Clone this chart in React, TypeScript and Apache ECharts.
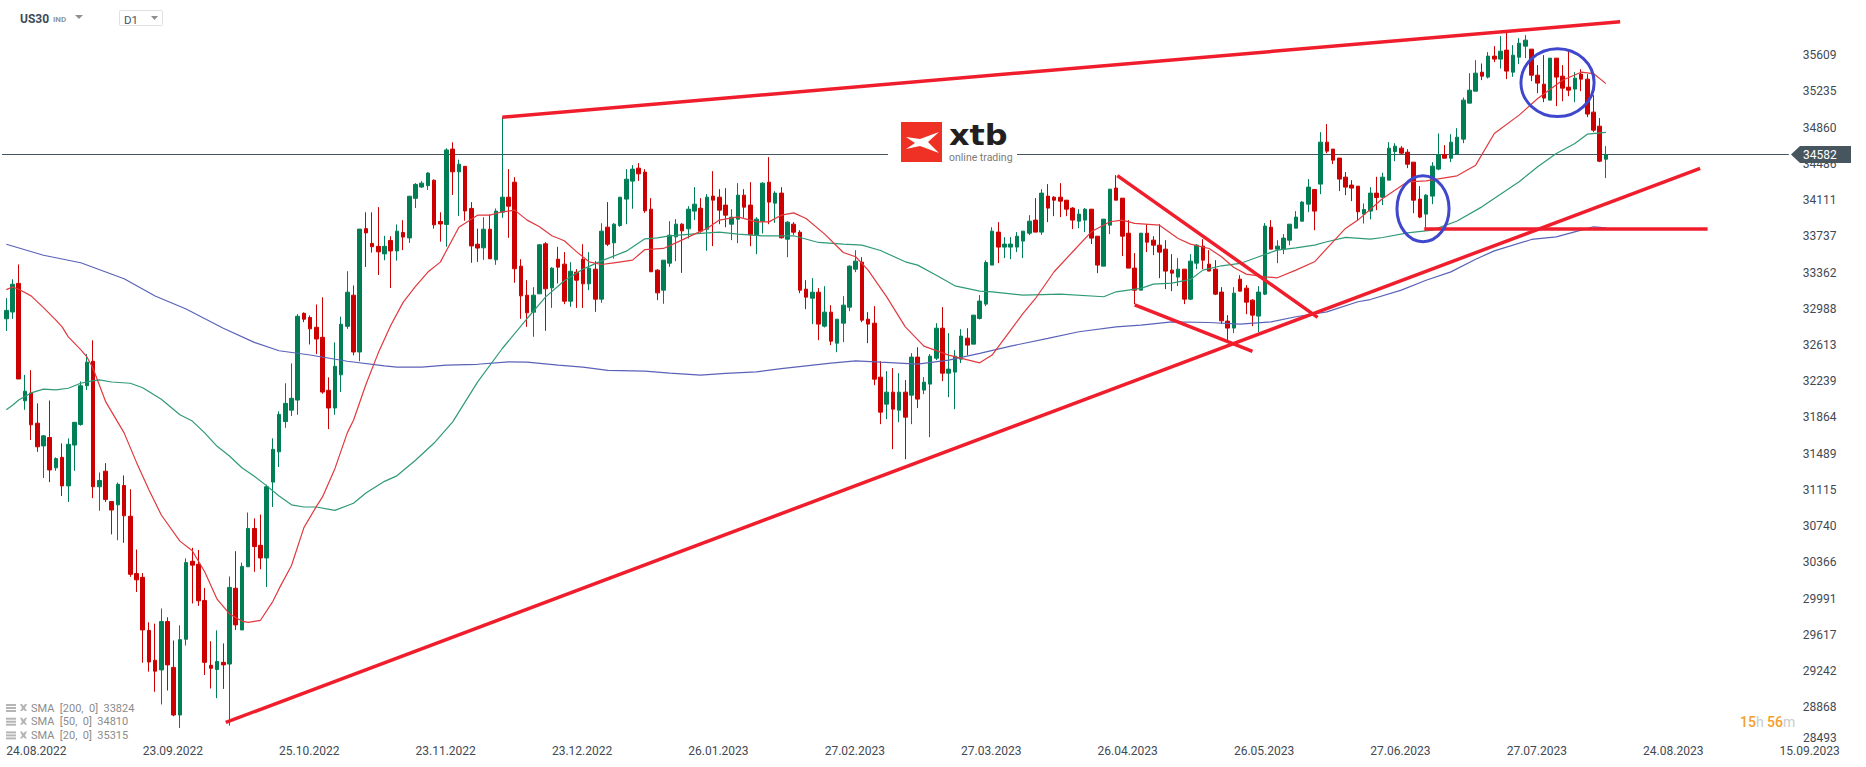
import React, { useEffect, useRef } from "react";
import * as echarts from "echarts";

const tickDates = ["24.08.2022","23.09.2022","25.10.2022","23.11.2022","23.12.2022","26.01.2023","27.02.2023","27.03.2023","26.04.2023","26.05.2023","27.06.2023","27.07.2023","24.08.2023","15.09.2023"];
const priceTicks = [35609,35235,34860,34486,34111,33737,33362,32988,32613,32239,31864,31489,31115,30740,30366,29991,29617,29242,28868];
const lastTickLabel = "28493";
const lastPrice = 34582;
const totalSlots = 288;

// [open, close, low, high]
const ohlc2022a = [
[32884,32971,32758,33098],[32954,33241,32884,33293],[33250,32262,32262,33446],[32036,32136,31944,32305],[32118,31788,31631,32353],[31805,31561,31509,32010],[31570,31674,31239,31683],[31657,31322,31196,32040],[31344,31439,31313,31452],[31452,31157,31052,31596],
[31157,31587,30991,31648],[31579,31814,31313,31814],[31792,32192,31779,32236],[32192,32436,32149,32519],[32445,31148,31030,32662],[31148,31213,30900,31296],[31309,31017,30991,31392],[30995,30908,30656,30995],[30961,31174,30595,31191],[31161,30848,30569,31265],
[30843,30243,30217,31122],[30251,30186,30060,30499],[30212,29668,29329,30256],[29664,29337,29237,29747],[29355,29242,29029,29733],[29255,29755,28898,29890],[29755,29307,29042,29799],[29281,28789,28776,29559],[28789,29568,28654,29716],[29572,30364,29507,30408],
[30378,30338,29942,30517],[30347,29969,29916,30495],[29973,29333,29202,30103],[29303,29272,29063,29551],[29259,29342,28963,29664],[29333,29307,29059,29529],[29316,30108,28680,30221],[30099,29720,29668,30482],[29668,30325,29668,30364],[30321,30717,30321,30882],
[30717,30530,30269,30821],[30543,30412,30295,30861],[30412,31148,30112,31170],[31196,31535,30939,31648],[31509,31896,31352,31927],[31822,32010,31757,32218],[31940,32062,31879,32423],[32044,32910,31892,32932],[32941,32880,32849,32950],[32897,32780,32619,32919],
[32797,32675,32519,33032],[32693,32127,32110,33106],[32145,31962,31744,32279],[31962,32393,31892,32641],[32305,32828,32127,32906],[32806,33159,32780,33376],[33128,32541,32506,33228],[32541,33811,32445,33811],[33816,33772,33420,33985],[33663,33629,33568,33985],
[33633,33576,33337,34038],[33555,33633,33489,33742],[33694,33585,33202,33737],[33585,33790,33485,33859],[33776,33729,33594,33903],[33720,34151,33668,34151],[34129,34273,34029,34286],[34246,34286,34238,34307],[34260,34390,34216,34399],[34316,33855,33816,34325],
[33890,33864,33681,33985],[33859,34629,33629,34647],[34638,34403,34164,34708],[34403,34482,33946,34529],[34460,33998,33898,34460],[34025,33637,33463,34090],[33655,33615,33472,33816],
];
const ohlcMiddle = [
[33618,33810,33494,33934],[33810,33504,33504,33962],[33494,33997,33442,34024],[33986,34141,33928,34968],[34141,34048,33721,34431],[34296,33401,33256,34348],[33428,33121,32884,33500],[33128,32946,32801,33283],[32953,33128,32698,33211],[33142,33649,33142,33655],
[33659,33194,32760,33676],[33204,33407,32997,33418],[33500,33418,33249,33628],[33449,33066,33035,33573],[33066,33376,33008,33469],[33366,33283,32997,33397],[33500,33245,32997,33655],[33245,33407,33180,33573],[33397,33087,32956,33480],[33087,33790,33049,33872],
[33831,33655,33635,34090],[33669,33862,33507,33872],[33848,34141,33835,34141],[34121,34327,33862,34431],[34307,34431,34021,34472],[34441,34382,34310,34493],[34400,34000,33979,34431],[34017,33370,33370,34131],[33387,33152,33077,33397],[33180,33490,33039,33490],
[33459,33748,33421,33893],[33731,33862,33480,33914],[33862,33793,33359,33872],[33814,34017,33714,34048],[33997,34069,33904,34245],[34027,33790,33773,34131],[33810,34141,33587,34172],[34152,34110,33635,34410],[34141,34007,33862,34224],[34059,33955,33831,34234],
[33862,33934,33697,34017],[33914,34162,33666,34286],[34162,34038,33928,34224],[34059,33752,33635,34296],[33755,33914,33552,33934],[33893,34286,33766,34296],[34296,34090,33862,34555],[34079,34183,33876,34203],[34183,33721,33714,34245],[33707,33883,33521,33893],
[33862,33779,33752,33883],[33779,33180,33149,33800],[33190,33108,32984,33283],[33097,33159,32829,33304],[33159,32829,32663,33201],[32808,32953,32794,33221],[32953,32653,32612,33025],[32632,32880,32539,32880],[32839,33025,32643,33118],[33004,33428,32963,33438],
[33397,33480,33366,33593],[33469,32870,32849,33521],[32880,32829,32632,32953],[32839,32260,32198,33015],[32281,31919,31795,32446],[32002,32126,31847,32343],[32126,31950,31537,32374],[31940,32126,31816,32322],[32126,31867,31433,32250],
];
const ohlcSpring = [
[32095,32488,31795,32529],[32488,32054,31961,32591],[32147,32229,32105,32281],[32209,32498,31661,32519],[32477,32787,32457,32839],[32787,32322,32240,33005],[32322,32364,32074,32736],[32333,32498,31950,32560],[32467,32705,32426,32777],[32684,32612,32508,32787],
[32622,32922,32622,32922],[32888,33067,32877,33129],[33036,33466,33015,33487],[33439,33790,33439,33831],[33780,33625,33459,33883],[33625,33656,33511,33728],[33625,33656,33501,33728],[33625,33738,33573,33780],[33687,33790,33511,33790],[33769,33893,33749,33955],
[33904,33780,33780,34131],[33780,34183,33752,34224],[34152,34028,33883,34276],[34141,34110,33945,34152],[34141,34100,33935,34286],[34110,34017,33945,34110],[34028,33904,33811,34038],[33893,33966,33821,34017],[33904,34017,33780,34028],[34017,33718,33656,34017],
[33738,33439,33356,33738],[33428,33914,33428,33914],[33852,34224,33759,34224],[34235,34110,34110,34369],[34131,33738,33532,34131],[33769,33408,33408,33904],[33408,33180,33036,33563],[33180,33769,33180,33769],[33769,33676,33573,33862],[33697,33645,33542,33738],
[33645,33573,33304,33862],[33604,33377,33191,33697],[33387,33356,33170,33552],[33315,33397,33222,33511],[33397,33087,33036,33397],[33087,33480,33077,33552],[33459,33645,33397,33656],[33635,33490,33397,33707],[33449,33377,33377,33594],[33397,33139,33129,33490],
[33160,32863,32829,33211],[32860,32788,32664,32922],[32788,33149,32736,33211],[33294,33170,33170,33335],[33201,33056,32932,33232],[33077,32922,32808,33087],[32912,33160,32746,33222],
];
const ohlcSummer = [
[33139,33842,33129,33873],[33831,33604,33604,33904],[33604,33635,33459,33697],[33604,33718,33552,33759],[33697,33862,33645,33862],[33821,33935,33821,33997],[33893,34090,33893,34100],[34069,34245,33986,34328],[34221,33997,33800,34221],[34276,34710,34172,34813],
[34710,34617,34596,34896],[34638,34524,34483,34638],[34545,34328,34204,34545],[34348,34245,34162,34400],[34266,34235,34100,34317],[34255,33990,33904,34255],[33966,34014,33869,34076],[33997,34183,33911,34245],[34183,34138,34007,34352],[34141,34348,34059,34393],
[34317,34648,34317,34710],[34613,34668,34513,34699],[34648,34596,34586,34668],[34606,34482,34441,34637],[34503,34110,33976,34503],[34121,33935,33924,34255],[33966,34162,33807,34172],[34152,34462,34069,34503],[34431,34582,34420,34799],[34582,34544,34544,34679],
[34544,34710,34503,34792],[34586,34761,34586,34854],[34741,35144,34699,35171],[35113,35247,35113,35423],[35237,35423,35237,35557],[35433,35392,35351,35523],[35382,35599,35368,35640],[35599,35568,35537,35702],[35568,35650,35471,35805],[35661,35444,35361,35847],
[35433,35609,35385,35712],[35588,35733,35516,35785],[35702,35764,35578,35816],[35671,35402,35340,35671],[35402,35320,35216,35506],[35309,35165,35123,35609],[35144,35578,35144,35578],[35578,35382,35082,35578],[35392,35268,35133,35506],[35278,35247,35185,35661],
[35258,35371,35123,35433],[35413,35361,35237,35464],[35361,35000,34968,35413],[35020,34834,34813,35195],[34875,34513,34503,34958],[34534,34582,34338,34668],
];

// [candle index, value]
const sma200 = [[0,33655],[6,33541],[12,33463],[19,33298],[24,33120],[29,32985],[35,32786],[40,32640],[44,32554],[49,32510],[55,32445],[61,32397],[63,32384],[67,32384],[71,32406],[76,32414],[81,32439],[84,32436],[89,32405],[93,32384],[97,32350],[103,32343],[107,32322],[112,32302],[116,32319],[121,32336],[125,32370],[129,32398],[133,32426],[137,32450],[141,32436],[147,32416],[152,32457],[157,32526],[162,32602],[168,32681],[173,32750],[179,32801],[183,32819],[188,32853],[194,32846],[199,32829],[204,32853],[208,32905],[213,32956],[218,33060],[220,33083],[225,33180],[229,33283],[233,33369],[237,33500],[240,33586],[246,33704],[250,33731],[254,33800],[256,33835],[258,33824]];
const sma50 = [[0,31944],[1,31990],[2,32044],[4,32118],[6,32157],[8,32149],[10,32166],[12,32218],[14,32245],[15,32253],[17,32231],[20,32218],[22,32171],[25,32053],[28,31892],[30,31827],[32,31705],[34,31566],[36,31466],[38,31344],[40,31257],[42,31157],[44,31052],[46,30961],[48,30939],[50,30939],[53,30904],[56,30978],[58,31083],[61,31204],[63,31261],[66,31422],[69,31600],[72,31819],[76,32230],[80,32577],[84,32887],[87,33111],[90,33277],[93,33397],[96,33483],[100,33583],[103,33711],[105,33721],[107,33742],[112,33766],[115,33780],[118,33759],[122,33742],[127,33742],[131,33673],[135,33655],[138,33645],[141,33590],[145,33473],[147,33439],[150,33335],[153,33225],[157,33170],[159,33163],[164,33129],[170,33139],[177,33112],[179,33163],[183,33198],[185,33242],[188,33253],[191,33291],[193,33387],[196,33432],[199,33456],[202,33525],[205,33594],[208,33618],[211,33645],[213,33680],[216,33725],[220,33707],[222,33724],[226,33772],[230,33800],[234,33895],[238,34041],[244,34300],[247,34455],[250,34593],[253,34696],[255,34792],[258,34810]];
const sma20 = [[0,33186],[1,33211],[2,33190],[4,33121],[6,33000],[8,32870],[9,32800],[10,32697],[12,32566],[13,32490],[14,32370],[16,32031],[19,31705],[21,31400],[23,31117],[25,30856],[28,30586],[30,30486],[32,30269],[34,29986],[36,29834],[38,29760],[39,29747],[41,29768],[43,29964],[44,30095],[46,30334],[48,30726],[50,30943],[51,31043],[53,31335],[55,31705],[56,31835],[58,32205],[60,32532],[62,32815],[64,33054],[66,33219],[68,33367],[70,33470],[73,33830],[76,33955],[78,33955],[80,33990],[82,34007],[84,33904],[86,33835],[88,33742],[90,33690],[92,33576],[94,33473],[96,33445],[98,33463],[101,33490],[103,33600],[106,33611],[108,33669],[111,33759],[113,33817],[115,33904],[118,33938],[121,33886],[123,33886],[125,33955],[127,33979],[129,33921],[132,33759],[135,33569],[137,33525],[139,33387],[142,33111],[145,32800],[148,32602],[152,32509],[157,32429],[159,32509],[162,32767],[164,32939],[166,33094],[169,33370],[172,33577],[175,33783],[178,33887],[180,33904],[182,33870],[186,33852],[189,33714],[191,33656],[194,33611],[196,33525],[198,33415],[200,33346],[203,33318],[205,33308],[208,33387],[211,33473],[213,33611],[216,33818],[218,33904],[222,34128],[226,34300],[229,34310],[234,34362],[237,34472],[240,34799],[244,34989],[247,35161],[251,35350],[254,35433],[256,35419],[258,35315]];

// trend lines as [candle index, price] pairs
const resistanceLine = [[80,34968],[260.3,35955]];
const supportLine = [[35.4,28713],[273.2,34439]];
const neckLine = [[228.7,33813],[274.4,33813]];
const wedgeUpper = [[179.2,34364],[211.5,32899]];
const wedgeLower = [[182,33027],[201,32547]];
const lastPriceLine = [[-0.7,lastPrice],[287.5,lastPrice]];
// [centre index, centre price, radius in candles, radius in price]
const circles = [[228.5,34022,4.2,341],[250.2,35325,5.9,351]];

const legendRows = ["SMA  [200,  0]  33824","SMA  [50,  0]  34810","SMA  [20,  0]  35315"];

const candles = [...ohlc2022a, ...ohlcMiddle, ...ohlcSpring, ...ohlcSummer];
const categories = Array.from({ length: totalSlots }, (_, i) => (i % 22 === 0 ? tickDates[i / 22] : ""));

const RED = "#cc0000";
const GREEN = "#007f56";
const TREND = "#f01e2c";
const INK = "#3f4a54";

const trend = (data: number[][]) => ({
  type: "line", xAxisIndex: 1, data, symbol: "none", silent: true, z: 6, clip: false,
  lineStyle: { color: TREND, width: 3.5 }, itemStyle: { color: TREND },
});
const sma = (data: number[][], color: string) => ({
  type: "line", xAxisIndex: 1, data, symbol: "none", silent: true, z: 4,
  lineStyle: { color, width: 1.2 }, itemStyle: { color },
});

function legendGraphics() {
  const out: any[] = [];
  legendRows.forEach((text, r) => {
    const y = 708 + r * 13.7;
    [-4, -1, 2].forEach((d) =>
      out.push({ type: "rect", shape: { x: 6, y: y + d, width: 10, height: 2 }, style: { fill: "#b5b5b5" }, z: 20 })
    );
    out.push({ type: "polygon", shape: { points: [[20,y-4],[22,y-4],[23.5,y-2],[25,y-4],[27,y-4],[25,y],[27,y+3],[25,y+3],[23.5,y+1.5],[22,y+3],[20,y+3],[22,y]] }, style: { fill: "#b5b5b5" }, z: 20 });
    out.push({ type: "text", x: 31, y, style: { text, fill: "#8c8c8c", font: "11px Roboto", textVerticalAlign: "middle" }, z: 20 });
  });
  return out;
}

export default function App() {
  const ref = useRef<HTMLDivElement>(null);
  useEffect(() => {
    const chart = echarts.init(ref.current!, undefined, { renderer: "svg" });
    chart.setOption({
      animation: false,
      backgroundColor: "#fff",
      textStyle: { fontFamily: "Roboto" },
      grid: { left: 3.2, top: 0, width: totalSlots * 6.2, height: 745 },
      xAxis: [
        {
          type: "category", data: categories, boundaryGap: true,
          axisLine: { show: false }, axisTick: { show: false }, splitLine: { show: false },
          axisLabel: { interval: 21, align: "left", margin: 0, fontSize: 12, color: INK, fontFamily: "Roboto", hideOverlap: false },
        },
        { type: "value", min: -0.5, max: totalSlots - 0.5, show: false },
      ],
      yAxis: {
        type: "value", position: "right", min: 28479, max: 36179, scale: true,
        axisLine: { show: false }, axisTick: { show: false }, splitLine: { show: false },
        axisLabel: { margin: 14, fontSize: 12, color: INK, fontFamily: "Roboto", customValues: priceTicks, formatter: (v: number) => String(v) },
      },
      series: [
        {
          type: "candlestick", xAxisIndex: 0, data: candles, barWidth: 4, z: 3, silent: true,
          itemStyle: { color: GREEN, color0: RED, borderColor: GREEN, borderColor0: RED, borderWidth: 1 },
        },
        sma(sma200, "#5a62b8"),
        sma(sma50, "#2f9a78"),
        sma(sma20, "#e0393e"),
        {
          type: "line", xAxisIndex: 1, data: lastPriceLine, symbol: "none", silent: true, z: 2, clip: false,
          lineStyle: { color: "#45545f", width: 1 },
        },
        trend(resistanceLine),
        trend(supportLine),
        trend(neckLine),
        trend(wedgeUpper),
        trend(wedgeLower),
        {
          type: "custom", xAxisIndex: 1, data: circles, z: 7, silent: true, clip: false,
          encode: { x: 0, y: 1 },
          renderItem: (_: any, api: any) => {
            const c = api.coord([api.value(0), api.value(1)]);
            const e = api.coord([api.value(0) + api.value(2), api.value(1) + api.value(3)]);
            return {
              type: "ellipse",
              shape: { cx: c[0], cy: c[1], rx: Math.abs(e[0] - c[0]), ry: Math.abs(e[1] - c[1]) },
              style: { fill: "none", stroke: "#3f48cc", lineWidth: 3 },
            };
          },
        },
      ],
      graphic: [
        // header
        { type: "text", x: 20, y: 19, style: { text: "US30", fill: "#3d4b57", font: "bold 12px Roboto", textVerticalAlign: "middle" }, z: 20 },
        { type: "text", x: 53, y: 19.5, style: { text: "IND", fill: "#8f969c", font: "bold 8px Roboto", textVerticalAlign: "middle" }, z: 20 },
        { type: "polygon", shape: { points: [[75,15],[83,15],[79,19]] }, style: { fill: "#8f8f8f" }, z: 20 },
        { type: "rect", shape: { x: 119.5, y: 10.5, width: 43, height: 15, r: 1 }, style: { fill: "#fff", stroke: "#e0e0e0", lineWidth: 1 }, z: 20 },
        { type: "text", x: 124, y: 20, style: { text: "D1", fill: "#4a5560", font: "11.5px Roboto", textVerticalAlign: "middle" }, z: 21 },
        { type: "polygon", shape: { points: [[151,16],[158,16],[154.5,20]] }, style: { fill: "#8f8f8f" }, z: 21 },
        // logo
        { type: "rect", shape: { x: 888, y: 118, width: 129, height: 48 }, style: { fill: "#fff" }, z: 20 },
        { type: "rect", shape: { x: 901, y: 122, width: 41, height: 40 }, style: { fill: "#ee3124" }, z: 21 },
        { type: "polygon", x: 901, y: 122, shape: { points: [[5,15],[19,17],[38,10],[27,20],[38,31],[19,24],[5,27],[14,21]] }, style: { fill: "#fff" }, z: 22 },
        { type: "text", x: 949, y: 149, scaleX: 1.14, style: { text: "xtb", fill: "#231f20", font: "bold 28px 'DejaVu Sans'", textVerticalAlign: "bottom" }, z: 21 },
        { type: "text", x: 949, y: 157, style: { text: "online trading", fill: "#7a7a7a", font: "10.5px Roboto", textVerticalAlign: "middle" }, z: 21 },
        // current price tag
        { type: "polygon", shape: { points: [[1791,154.5],[1800,146],[1851,146],[1851,163],[1800,163]] }, style: { fill: "#47555f" }, z: 20 },
        { type: "text", x: 1803, y: 155, style: { text: String(lastPrice), fill: "#fff", font: "12px Roboto", textVerticalAlign: "middle" }, z: 21 },
        // squeezed bottom tick label
        { type: "text", x: 1803, y: 737.5, style: { text: lastTickLabel, fill: INK, font: "12px Roboto", textVerticalAlign: "middle" }, z: 20 },
        // timer
        { type: "text", x: 1740, y: 722, style: {
            text: "{a|15}{b|h} {a|56}{b|m}", textVerticalAlign: "middle", font: "14px Roboto",
            rich: { a: { fill: "#f59e2e", font: "500 14px Roboto" }, b: { fill: "#c8ccd0", font: "14px Roboto" } },
          }, z: 20 },
        ...legendGraphics(),
      ],
    });
    return () => chart.dispose();
  }, []);
  return <div ref={ref} style={{ position: "absolute", left: 0, top: 0, width: 1866, height: 767 }} />;
}
